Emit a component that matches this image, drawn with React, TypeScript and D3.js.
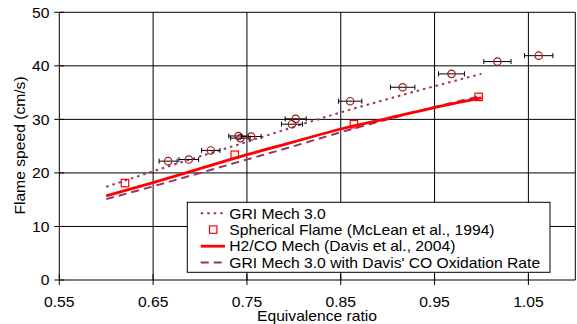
import React from "react";
import * as d3 from "d3";

// ---- data ----
const phiGrid = [0.6, 0.65, 0.7, 0.75, 0.8, 0.85, 0.9, 0.95, 1.0];
const griMech = [17.4, 20.3, 23.1, 25.8, 28.6, 31.3, 33.8, 36.2, 38.5];
const davisMech = [15.7, 18.2, 20.8, 23.4, 25.8, 28.2, 30.2, 32.2, 34.0];
const griDavisCO = [15.1, 17.5, 20.0, 22.5, 25.0, 27.6, 30.0, 32.3, 34.4];

const sphPhi = [0.62, 0.737, 0.864, 0.997];
const sphSpeed = [18.1, 23.4, 29.1, 34.2];

const expPhi = [0.666, 0.688, 0.7115, 0.741, 0.743, 0.7545, 0.798, 0.802, 0.86, 0.916, 0.968, 1.017, 1.061];
const expSpeed = [22.2, 22.5, 24.2, 26.9, 26.5, 26.8, 29.1, 30.1, 33.4, 36.0, 38.5, 40.8, 41.9];
const expErr = [0.0096, 0.0105, 0.0098, 0.0104, 0.0104, 0.0106, 0.0112, 0.0112, 0.0125, 0.013, 0.0138, 0.0145, 0.0151];

const xTicks = [0.55, 0.65, 0.75, 0.85, 0.95, 1.05];
const yTicks = [0, 10, 20, 30, 40, 50];

const legendLabels = [
  "GRI Mech 3.0",
  "Spherical Flame (McLean et al., 1994)",
  "H2/CO Mech (Davis et al., 2004)",
  "GRI Mech 3.0 with Davis' CO Oxidation Rate",
];

const W = 577;
const H = 324;
const FONT = "'Liberation Sans', Arial, sans-serif";
const PLUM = "#993366";
const FS = 14.5;
const SX = 1.08;

function T({
  x,
  y,
  rot = 0,
  anchor = "start",
  dy,
  children,
}: {
  x: number;
  y: number;
  rot?: number;
  anchor?: string;
  dy?: string;
  children: React.ReactNode;
}) {
  return (
    <text
      transform={`translate(${x},${y}) rotate(${rot}) scale(${SX},1)`}
      textAnchor={anchor as any}
      dy={dy}
      fontSize={FS}
      fill="#000"
    >
      {children}
    </text>
  );
}

export default function App() {
  const x = d3.scaleLinear().domain([0.55, 1.1]).range([59.3, 575.3]);
  const y = d3.scaleLinear().domain([0, 50]).range([280, 12.3]);

  const line = (vals: number[]) =>
    d3
      .line<number>()
      .x((_, i) => x(phiGrid[i]))
      .y((v) => y(v))
      .curve(d3.curveMonotoneX)(vals) || "";

  const lgX = 187.3, lgY = 202.3, lgW = 550 - 187.3, lgH = 70;
  const rowY = [213.3, 229.6, 246.2, 262.6];

  return (
    <svg
      width={W}
      height={H}
      style={{ position: "absolute", left: 0, top: 0, background: "#fff" }}
      fontFamily={FONT}
    >
      <rect x={0} y={0} width={W} height={H} fill="#fff" />
      {/* grid */}
      {yTicks.slice(1).map((t) => (
        <line key={"gy" + t} x1={x(0.55)} x2={x(1.1)} y1={y(t)} y2={y(t)} stroke="#000" strokeWidth={1} />
      ))}
      {xTicks.slice(1).map((t) => (
        <line key={"gx" + t} x1={x(t)} x2={x(t)} y1={y(0)} y2={y(50)} stroke="#000" strokeWidth={1} />
      ))}
      <line x1={x(1.1)} x2={x(1.1)} y1={y(0)} y2={y(50)} stroke="#000" strokeWidth={1} />
      {/* axes */}
      <line x1={x(0.55)} x2={x(1.1)} y1={y(0)} y2={y(0)} stroke="#000" strokeWidth={1} />
      <line x1={x(0.55)} x2={x(0.55)} y1={y(0)} y2={y(50)} stroke="#000" strokeWidth={1} />
      {yTicks.map((t) => (
        <g key={"yt" + t}>
          <line x1={x(0.55) - 5} x2={x(0.55) + 5} y1={y(t)} y2={y(t)} stroke="#000" />
          <T x={49.5} y={y(t)} anchor="end" dy="0.36em">
            {t}
          </T>
        </g>
      ))}
      {xTicks.map((t) => (
        <g key={"xt" + t}>
          <line x1={x(t)} x2={x(t)} y1={y(0) - 6} y2={y(0) + 5} stroke="#000" />
          <T x={x(t)} y={307.3} anchor="middle">
            {t.toFixed(2)}
          </T>
        </g>
      ))}
      <T x={317} y={320.7} anchor="middle">
        Equivalence ratio
      </T>
      <T x={25} y={145.5} rot={-90} anchor="middle">
        Flame speed (cm/s)
      </T>

      {/* model lines */}
      <path d={line(griMech)} fill="none" stroke={PLUM} strokeWidth={2} strokeDasharray="2.5,4" />
      <path d={line(griDavisCO)} fill="none" stroke={PLUM} strokeWidth={2} strokeDasharray="8,5" />
      <path d={line(davisMech)} fill="none" stroke="#ff0000" strokeWidth={2.8} />

      {/* spherical flame squares */}
      {sphPhi.map((p, i) => (
        <rect
          key={"sq" + i}
          x={x(p) - 3.7}
          y={y(sphSpeed[i]) - 3.7}
          width={7.4}
          height={7.4}
          fill="none"
          stroke="#ff0000"
          strokeWidth={1.2}
        />
      ))}

      {/* experimental points with x error bars */}
      {expPhi.map((p, i) => {
        const cy = y(expSpeed[i]);
        const x0 = x(p - expErr[i]);
        const x1 = x(p + expErr[i]);
        return (
          <g key={"ex" + i}>
            <line x1={x0} x2={x1} y1={cy} y2={cy} stroke="#000" strokeWidth={1} />
            <line x1={x0} x2={x0} y1={cy - 2.5} y2={cy + 2.5} stroke="#000" strokeWidth={1} />
            <line x1={x1} x2={x1} y1={cy - 2.5} y2={cy + 2.5} stroke="#000" strokeWidth={1} />
            <circle cx={x(p)} cy={cy} r={3.7} fill="none" stroke="#a01818" strokeWidth={1.2} />
          </g>
        );
      })}

      {/* legend */}
      <rect x={lgX} y={lgY} width={lgW} height={lgH} fill="#fff" stroke="#000" strokeWidth={1} />
      <line x1={200.7} x2={225} y1={rowY[0]} y2={rowY[0]} stroke={PLUM} strokeWidth={2} strokeDasharray="2.5,4" />
      <rect x={209.5} y={rowY[1] - 3.7} width={7.4} height={7.4} fill="none" stroke="#ff0000" strokeWidth={1.2} />
      <line x1={200.7} x2={225} y1={rowY[2]} y2={rowY[2]} stroke="#ff0000" strokeWidth={2.8} />
      <line x1={200.7} x2={225} y1={rowY[3]} y2={rowY[3]} stroke={PLUM} strokeWidth={2} strokeDasharray="8,5" />
      {legendLabels.map((l, i) => (
        <T key={"lg" + i} x={229.3} y={rowY[i]} dy="0.36em">
          {l}
        </T>
      ))}
    </svg>
  );
}
